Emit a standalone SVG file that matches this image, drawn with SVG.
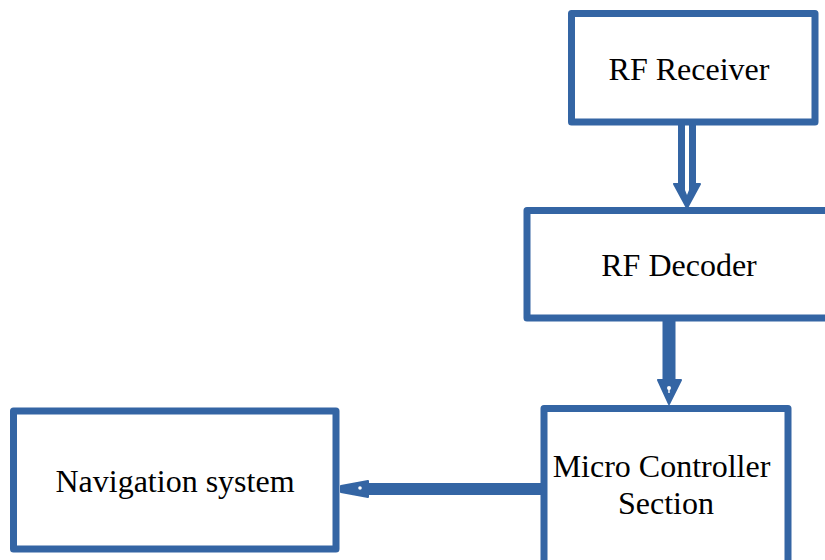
<svg xmlns="http://www.w3.org/2000/svg" width="825" height="560" viewBox="0 0 825 560">
  <style>
    .box { fill: #ffffff; stroke: #3465a4; stroke-width: 7; stroke-linejoin: round; }
    .label { font-family: "Liberation Serif", "Times New Roman", serif; font-size: 32px; fill: #000000; text-anchor: middle; }
    .shaft { stroke: #3465a4; fill: none; }
    .head { fill: #3465a4; stroke: #3465a4; stroke-width: 2; stroke-linejoin: round; }
    .hole { fill: #ffffff; stroke: none; }
  </style>
  <rect width="825" height="560" fill="#ffffff"/>

  <!-- connectors -->
  <g id="connectors">
    <!-- RF Receiver -> RF Decoder (double line) -->
    <g id="edge-receiver-decoder">
      <line class="shaft" x1="687" y1="122" x2="687" y2="188" stroke-width="18"/>
      <polygon class="head" points="674,184 700,184 687,208"/>
      <line x1="687" y1="124" x2="687" y2="190" stroke="#ffffff" stroke-width="4"/>
      <polygon class="hole" points="685,190 689,190 687,195"/>
    </g>
    <!-- RF Decoder -> Micro Controller -->
    <g id="edge-decoder-mcu">
      <line class="shaft" x1="669" y1="318" x2="669" y2="383" stroke-width="13"/>
      <polygon class="head" points="658,380 681,380 669,404"/>
      <circle class="hole" cx="669" cy="388" r="2"/>
      <line x1="669" y1="388" x2="669" y2="393" stroke="#ffffff" stroke-width="1.4"/>
    </g>
    <!-- Micro Controller -> Navigation system -->
    <g id="edge-mcu-nav">
      <line class="shaft" x1="546" y1="489" x2="365" y2="489" stroke-width="12" stroke-linecap="round"/>
      <polygon class="head" points="368,481 368,497 341,492 341,486"/>
      <circle class="hole" cx="360" cy="488" r="1.8"/>
    </g>
  </g>

  <!-- nodes -->
  <g id="rf-receiver">
    <rect class="box" x="571.5" y="13.5" width="243.5" height="108.5"/>
    <text class="label" x="689" y="80">RF Receiver</text>
  </g>

  <g id="rf-decoder">
    <rect class="box" x="527" y="210.5" width="310" height="107.5"/>
    <text class="label" x="679" y="276">RF Decoder</text>
  </g>

  <g id="micro-controller">
    <rect class="box" x="544" y="408.5" width="244" height="170"/>
    <text class="label" x="661.5" y="477">Micro Controller</text>
    <text class="label" x="666" y="513.5">Section</text>
  </g>

  <g id="navigation-system">
    <rect class="box" x="13.5" y="411" width="322.5" height="138"/>
    <text class="label" x="175" y="492">Navigation system</text>
  </g>
</svg>
